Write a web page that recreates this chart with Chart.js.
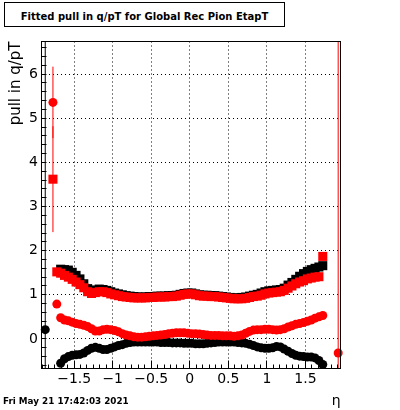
<!DOCTYPE html>
<html>
<head>
<meta charset="utf-8">
<script src="https://cdn.jsdelivr.net/npm/chart.js@4/dist/chart.umd.min.js"></script>
<style>
  html, body { margin: 0; padding: 0; background: #fff; }
  #wrap { position: relative; width: 400px; height: 410px; }
  #pull-chart { position: absolute; left: 0; top: 0; }
  .title-box {
    position: absolute; left: 4px; top: 2px; width: 281px; height: 25px;
    border: 1px solid #000; box-sizing: border-box; background: #fff;
  }
  .title-box span {
    position: absolute; left: 0; right: 0; top: 7.5px; text-align: center;
    font: bold 10px "DejaVu Sans"; line-height: 12px; white-space: nowrap;
  }
  .stamp {
    position: absolute; left: 3px; top: 396px;
    font: bold 8.8px "DejaVu Sans"; line-height: 10px; white-space: nowrap;
  }
</style>
</head>
<body>
<div id="wrap">
  <canvas id="pull-chart" width="400" height="410"></canvas>
  <div class="title-box"><span>Fitted pull in q/pT for Global Rec Pion EtapT</span></div>
  <div class="stamp">Fri May 21 17:42:03 2021</div>
</div>
<script>
// eta bin centres (0.05 wide)
const etaBins = [
  -1.925, -1.875, -1.825, -1.775, -1.725, -1.675, -1.625, -1.575, -1.525, -1.475,
  -1.425, -1.375, -1.325, -1.275, -1.225, -1.175, -1.125, -1.075, -1.025, -0.975,
  -0.925, -0.875, -0.825, -0.775, -0.725, -0.675, -0.625, -0.575, -0.525, -0.475,
  -0.425, -0.375, -0.325, -0.275, -0.225, -0.175, -0.125, -0.075, -0.025, 0.025,
  0.075, 0.125, 0.175, 0.225, 0.275, 0.325, 0.375, 0.425, 0.475, 0.525,
  0.575, 0.625, 0.675, 0.725, 0.775, 0.825, 0.875, 0.925, 0.975, 1.025,
  1.075, 1.125, 1.175, 1.225, 1.275, 1.325, 1.375, 1.425, 1.475, 1.525,
  1.575, 1.625, 1.675, 1.725, 1.775, 1.825, 1.875, 1.925
];

// pull width, red squares
const redSigma = [
  null, null, null, 3.62, 1.52, 1.49, 1.44, 1.40, 1.35, 1.29,
  1.23, 1.16, 1.07, 1.03, 1.05, 1.07, 1.07, 1.05, 1.02, 1.00,
  0.98, 0.96, 0.95, 0.94, 0.93, 0.93, 0.93, 0.93, 0.94, 0.94,
  0.95, 0.95, 0.95, 0.96, 0.96, 0.97, 0.99, 1.01, 1.02, 1.02,
  1.00, 0.98, 0.97, 0.97, 0.96, 0.96, 0.95, 0.94, 0.93, 0.92,
  0.91, 0.91, 0.91, 0.92, 0.94, 0.96, 0.97, 0.99, 1.02, 1.04,
  1.05, 1.06, 1.07, 1.10, 1.15, 1.20, 1.25, 1.29, 1.32, 1.36,
  1.38, 1.40, 1.41, 1.87, null, null, null, null
];

// pull width, black squares
const blackSigma = [
  null, null, null, null, null, 1.58, 1.57, 1.56, 1.51, 1.44,
  1.36, 1.25, 1.14, 1.09, 1.11, 1.13, 1.12, 1.10, 1.07, 1.04,
  1.02, 1.00, 0.98, 0.97, 0.96, 0.95, 0.95, 0.95, 0.96, 0.96,
  0.97, 0.97, 0.97, 0.98, 0.98, 0.99, 1.01, 1.03, 1.04, 1.04,
  1.02, 1.00, 0.99, 0.99, 0.98, 0.98, 0.97, 0.96, 0.95, 0.94,
  0.93, 0.93, 0.94, 0.95, 0.97, 0.99, 1.01, 1.04, 1.07, 1.09,
  1.10, 1.11, 1.12, 1.15, 1.22, 1.28, 1.35, 1.42, 1.48, 1.53,
  1.57, 1.60, 1.63, 1.66, null, null, null, null
];

// pull mean, red circles
const redMean = [
  null, null, null, 5.36, 0.79, 0.48, 0.43, 0.41, 0.38, 0.35,
  0.33, 0.31, 0.28, 0.23, 0.18, 0.18, 0.21, 0.22, 0.21, 0.19,
  0.16, 0.12, 0.09, 0.07, 0.05, 0.04, 0.04, 0.05, 0.06, 0.07,
  0.08, 0.09, 0.10, 0.12, 0.13, 0.14, 0.14, 0.14, 0.13, 0.12,
  0.12, 0.11, 0.10, 0.09, 0.08, 0.08, 0.08, 0.07, 0.07, 0.07,
  0.06, 0.07, 0.09, 0.13, 0.17, 0.20, 0.21, 0.21, 0.22, 0.22,
  0.21, 0.20, 0.21, 0.23, 0.27, 0.30, 0.33, 0.35, 0.37, 0.40,
  0.43, 0.47, 0.50, 0.53, null, null, null, -0.32
];

// pull mean, black circles
const blackMean = [
  null, 0.21, null, null, null, -0.55, -0.45, -0.40, -0.37, -0.36,
  -0.35, -0.32, -0.26, -0.21, -0.19, -0.21, -0.24, -0.24, -0.21, -0.18,
  -0.15, -0.13, -0.10, -0.08, -0.07, -0.07, -0.07, -0.07, -0.07, -0.07,
  -0.07, -0.08, -0.08, -0.08, -0.09, -0.09, -0.09, -0.10, -0.10, -0.10,
  -0.11, -0.11, -0.11, -0.10, -0.09, -0.08, -0.07, -0.07, -0.07, -0.07,
  -0.07, -0.08, -0.09, -0.10, -0.12, -0.15, -0.18, -0.20, -0.21, -0.21,
  -0.20, -0.17, -0.18, -0.23, -0.28, -0.33, -0.37, -0.39, -0.40, -0.41,
  -0.41, -0.43, -0.49, -0.58, null, null, null, null
];

// the few error bars that show outside the markers (edge bins)
const errEta = [-1.875, -1.775, -1.775, 1.925];
const errLow = [-1, 4.55, 2.42, -1];
const errHigh = [8, 6.17, 4.82, 8];
const errOwner = ["blackMean", "redMean", "redSigma", "redMean"];

const yTicks = [0, 1, 2, 3, 4, 5, 6];

const colors = { redSigma: "#ff0000", redMean: "#ff0000", blackSigma: "#000000", blackMean: "#000000" };

function toPoints(values) {
  return etaBins
    .map((x, i) => ({ x, y: values[i] }))
    .filter((p) => p.y !== null);
}

function markerSet(label, values, style) {
  return {
    label,
    data: toPoints(values),
    pointStyle: style,
    pointRadius: style === "rect" ? 6.4 : 4.5,
    pointBackgroundColor: colors[label],
    pointBorderWidth: 0,
    showLine: false,
    clip: false
  };
}

const errorSets = errEta.map((x, i) => ({
  type: "line",
  label: "err" + i,
  data: [{ x, y: errLow[i] }, { x, y: errHigh[i] }],
  borderColor: colors[errOwner[i]],
  borderWidth: 1,
  pointRadius: 0,
  showLine: true
}));

// ROOT style frame: dotted grid, box, inward ticks
const rootFrame = {
  id: "rootFrame",
  beforeDatasetsDraw(chart) {
    const { ctx, chartArea: a, scales: { x, y } } = chart;
    ctx.save();
    ctx.strokeStyle = "#000";
    ctx.lineWidth = 1;
    ctx.setLineDash([1, 3]);
    x.ticks.forEach((t) => {
      const px = Math.floor(x.getPixelForValue(t.value)) + 0.5;
      ctx.beginPath();
      ctx.moveTo(px, a.top);
      ctx.lineTo(px, a.bottom);
      ctx.stroke();
    });
    yTicks.forEach((v) => {
      const py = Math.floor(y.getPixelForValue(v)) + 0.5;
      ctx.beginPath();
      ctx.moveTo(a.left, py);
      ctx.lineTo(a.right, py);
      ctx.stroke();
    });
    ctx.restore();
  },
  afterDatasetsDraw(chart) {
    const { ctx, chartArea: a, scales: { x, y } } = chart;
    const l = Math.floor(a.left) + 0.5, r = Math.floor(a.right) + 0.5;
    const t = Math.floor(a.top) + 0.5, b = Math.floor(a.bottom) + 0.5;
    ctx.save();
    ctx.strokeStyle = "#000";
    ctx.lineWidth = 1;
    ctx.strokeRect(l, t, r - l, b - t);
    ctx.beginPath();
    for (let i = -3; i <= 33; i++) {
      const py = Math.floor(y.getPixelForValue(i / 5)) + 0.5;
      ctx.moveTo(l, py);
      ctx.lineTo(l + 5, py);
    }
    for (let i = -23; i <= 23; i++) {
      const px = Math.floor(x.getPixelForValue(i / 12)) + 0.5;
      ctx.moveTo(px, b);
      ctx.lineTo(px, b - (i % 6 === 0 ? 8 : 4));
    }
    ctx.stroke();
    ctx.restore();
  }
};

Chart.defaults.font.family = "DejaVu Sans";
Chart.defaults.color = "#000";

new Chart(document.getElementById("pull-chart"), {
  type: "scatter",
  data: {
    datasets: [
      markerSet("redSigma", redSigma, "rect"),
      markerSet("redMean", redMean, "circle"),
      markerSet("blackSigma", blackSigma, "rect"),
      markerSet("blackMean", blackMean, "circle"),
      ...errorSets
    ]
  },
  options: {
    responsive: false,
    animation: false,
    devicePixelRatio: 1,
    layout: { padding: { top: 41.5, right: 59.5, left: 0, bottom: 0 } },
    plugins: { legend: { display: false }, tooltip: { enabled: false } },
    scales: {
      x: {
        type: "linear",
        min: -1.93,
        max: 1.955,
        afterFit(scale) { scale.height = 41.5; },
        grid: { display: false, drawTicks: false },
        border: { display: false },
        ticks: {
          stepSize: 0.5,
          includeBounds: false,
          autoSkip: false,
          maxRotation: 0,
          padding: 2,
          font: { size: 14 },
          color: "#000",
          callback: (v) => String(v).replace("-", "\u2212")
        },
        title: {
          display: true,
          text: "\u03b7",
          align: "end",
          font: { size: 14 },
          color: "#000",
          padding: { top: 0, bottom: 0 }
        }
      },
      y: {
        type: "linear",
        min: -0.67,
        max: 6.74,
        afterFit(scale) { scale.width = 41; },
        grid: { display: false, drawTicks: false },
        border: { display: false },
        ticks: {
          stepSize: 1,
          includeBounds: false,
          padding: 3,
          font: { size: 14 },
          color: "#000"
        },
        title: {
          display: true,
          text: "pull in q/pT",
          align: "end",
          font: { size: 15 },
          color: "#000",
          padding: { top: 7.3, bottom: 0 }
        }
      }
    }
  },
  plugins: [rootFrame]
});
</script>
</body>
</html>
